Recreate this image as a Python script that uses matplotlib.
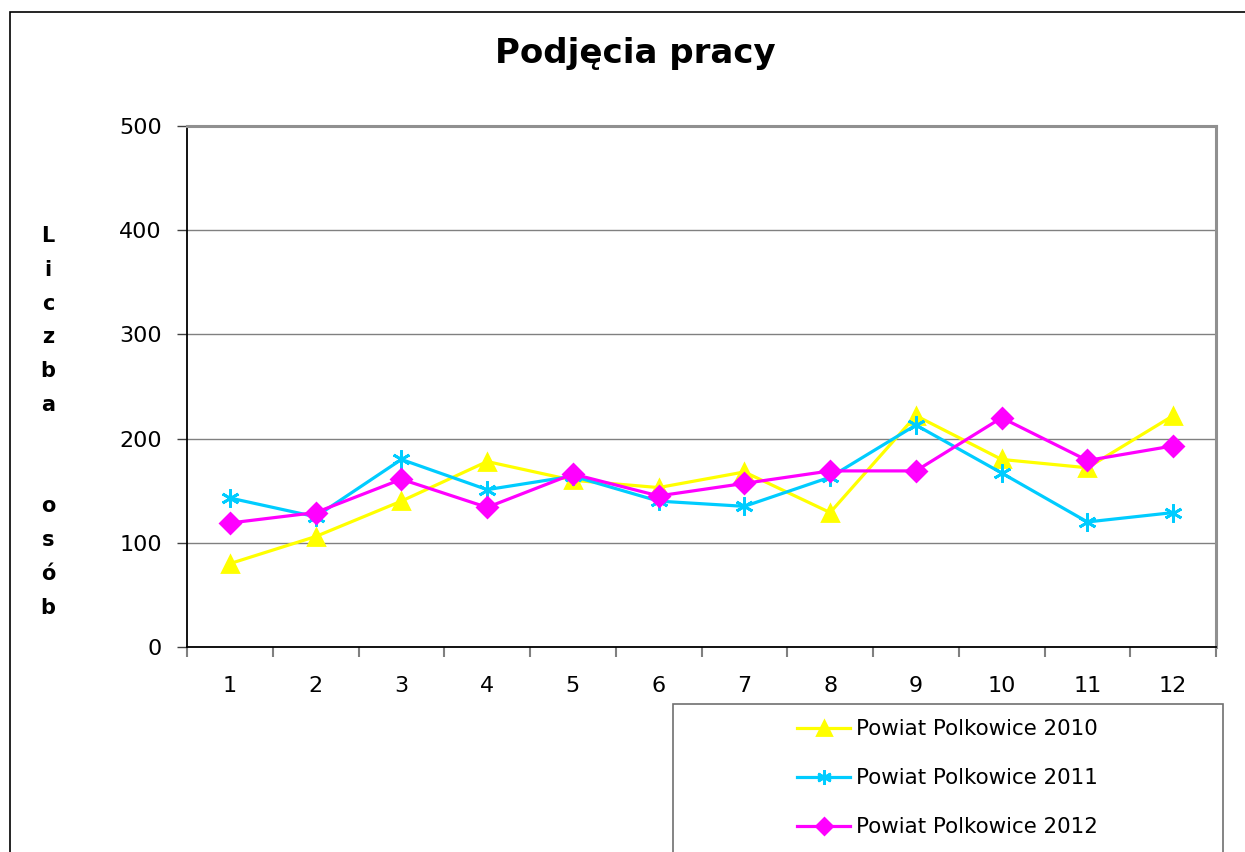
import matplotlib
matplotlib.use("Agg")
import matplotlib.pyplot as plt
from matplotlib.patches import Rectangle
from matplotlib.lines import Line2D

# Dane
miesiace = [1, 2, 3, 4, 5, 6, 7, 8, 9, 10, 11, 12]
polkowice_2010 = [80, 106, 140, 178, 160, 153, 168, 129, 222, 180, 172, 222]
polkowice_2011 = [143, 125, 180, 151, 164, 140, 135, 163, 213, 167, 120, 129]
polkowice_2012 = [119, 129, 161, 134, 166, 145, 157, 169, 169, 220, 179, 193]
etykiety = ["Powiat Polkowice 2010", "Powiat Polkowice 2011", "Powiat Polkowice 2012"]
tytul = "Podjęcia pracy"
os_y = "Liczba  osób"

W, H = 1245, 852
fig = plt.figure(figsize=(W / 100, H / 100), dpi=100)
plt.rcParams['font.family'] = ['DejaVu Sans']

ax = fig.add_axes([187 / W, 1 - 647 / H, (1216 - 187) / W, (647 - 126) / H])

kolory = ['#FFFF00', '#00CCFF', '#FF00FF']
markery = ['^', (6, 2, 0), 'D']
rozmiary = [12, 13, 10]
serie = [polkowice_2010, polkowice_2011, polkowice_2012]
for dane, kol, mk, ms in zip(serie, kolory, markery, rozmiary):
    ax.plot(miesiace, dane, color=kol, lw=2.3, marker=mk, markersize=ms,
            markerfacecolor=kol, markeredgecolor=kol, markeredgewidth=2)

ax.set_xlim(0.5, 12.5)
ax.set_ylim(0, 500)
ax.set_yticks([0, 100, 200, 300, 400, 500])
ax.yaxis.grid(True, color='#808080', lw=1)
ax.set_axisbelow(True)

# podziałki osi X pomiędzy kategoriami, etykiety na środku
ax.set_xticks([x + 0.5 for x in [0] + miesiace])
ax.set_xticklabels([])
ax.set_xticks(miesiace, minor=True)
ax.set_xticklabels([str(m) for m in miesiace], minor=True)
ax.tick_params(axis='x', which='major', length=7, color='#808080', width=1.5)
ax.tick_params(axis='x', which='minor', length=0, pad=21, labelsize=16)
ax.tick_params(axis='y', length=7, color='#404040', width=1, pad=11, labelsize=16)

for s in ['left', 'bottom']:
    ax.spines[s].set_color('#000000')
    ax.spines[s].set_linewidth(1.3)
for s in ['top', 'right']:
    ax.spines[s].set_color('#909090')
    ax.spines[s].set_linewidth(2.2)

fig.text(635 / W, 1 - 53 / H, tytul, ha='center', va='center',
         fontsize=24.5, fontweight='bold')

# pionowy opis osi Y, litera pod literą
for i, ch in enumerate(os_y):
    if ch.strip():
        fig.text(48 / W, 1 - (236 + i * 33.8) / H, ch, ha='center', va='center',
                 fontsize=15, fontweight='bold')

# ramka całego wykresu
fig.patches.append(Rectangle((10 / W, -0.1), 1.2, 1.1 - 12 / H, transform=fig.transFigure,
                             fill=False, edgecolor='#000000', lw=1.2, clip_on=False))
# ramka legendy
fig.patches.append(Rectangle((673 / W, -0.1), (1223 - 673) / W, 0.1 + 1 - 704 / H,
                             transform=fig.transFigure, fill=False,
                             edgecolor='#707070', lw=1.2, clip_on=False))

uchwyty = [Line2D([], [], color=k, lw=2.3, marker=m, markersize=s * 0.8,
                  markerfacecolor=k, markeredgecolor=k, markeredgewidth=2)
           for k, m, s in zip(kolory, markery, rozmiary)]
fig.legend(uchwyty, etykiety, loc='upper left', bbox_to_anchor=(797 / W, 1 - 719 / H),
           frameon=False, fontsize=15.4, handlelength=2.5, handletextpad=0.25,
           labelspacing=1.36, borderpad=0, borderaxespad=0)

fig.savefig('out.png', dpi=100)
